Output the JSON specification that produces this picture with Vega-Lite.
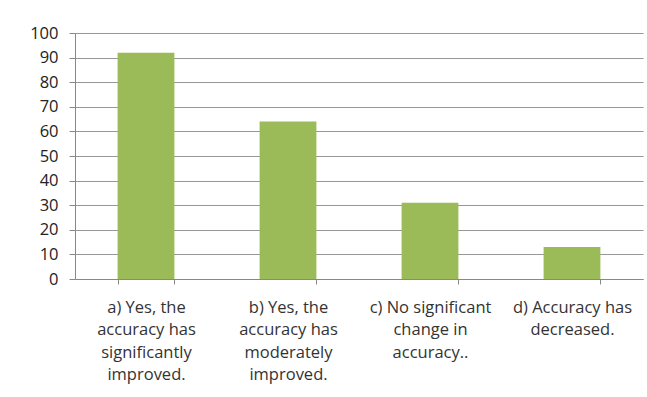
{
  "$schema": "https://vega.github.io/schema/vega-lite/v6.json",
  "width": 568,
  "height": 246,
  "autosize": {"type": "none"},
  "padding": {"left": 75, "top": 33, "right": 4, "bottom": 118},
  "background": "#ffffff",
  "data": {
    "values": [
      {"answer": "a) Yes, the\naccuracy has\nsignificantly\nimproved.", "percent": 92},
      {"answer": "b) Yes, the\naccuracy has\nmoderately\nimproved.", "percent": 64},
      {"answer": "c) No significant\nchange in\naccuracy..", "percent": 31},
      {"answer": "d) Accuracy has\ndecreased.", "percent": 13}
    ]
  },
  "mark": {"type": "bar", "color": "#9BBB59"},
  "encoding": {
    "x": {
      "field": "answer",
      "type": "nominal",
      "sort": null,
      "scale": {"paddingInner": 0.6, "paddingOuter": 0.3},
      "axis": {
        "title": null,
        "labelAngle": 0,
        "labelExpr": "datum.value ? split(datum.value, '\\n') : ''",
        "labelFont": "Open Sans",
        "labelFontSize": 16.5,
        "labelColor": "#333333",
        "labelLineHeight": 22.5,
        "labelPadding": 15,
        "labelBaseline": "top",
        "tickBand": "extent",
        "tickSize": 5,
        "tickColor": "#888888",
        "domainColor": "#888888",
        "grid": false
      }
    },
    "y": {
      "field": "percent",
      "type": "quantitative",
      "scale": {"domain": [0, 100], "nice": false},
      "axis": {
        "title": null,
        "values": [0, 10, 20, 30, 40, 50, 60, 70, 80, 90, 100],
        "labelFont": "Open Sans",
        "labelFontSize": 16.5,
        "labelColor": "#222222",
        "labelPadding": 11,
        "tickSize": 6,
        "tickColor": "#888888",
        "domainColor": "#888888",
        "gridColor": "#8c8c8c",
        "gridOpacity": 0.9
      }
    }
  },
  "config": {"view": {"stroke": null}}
}
